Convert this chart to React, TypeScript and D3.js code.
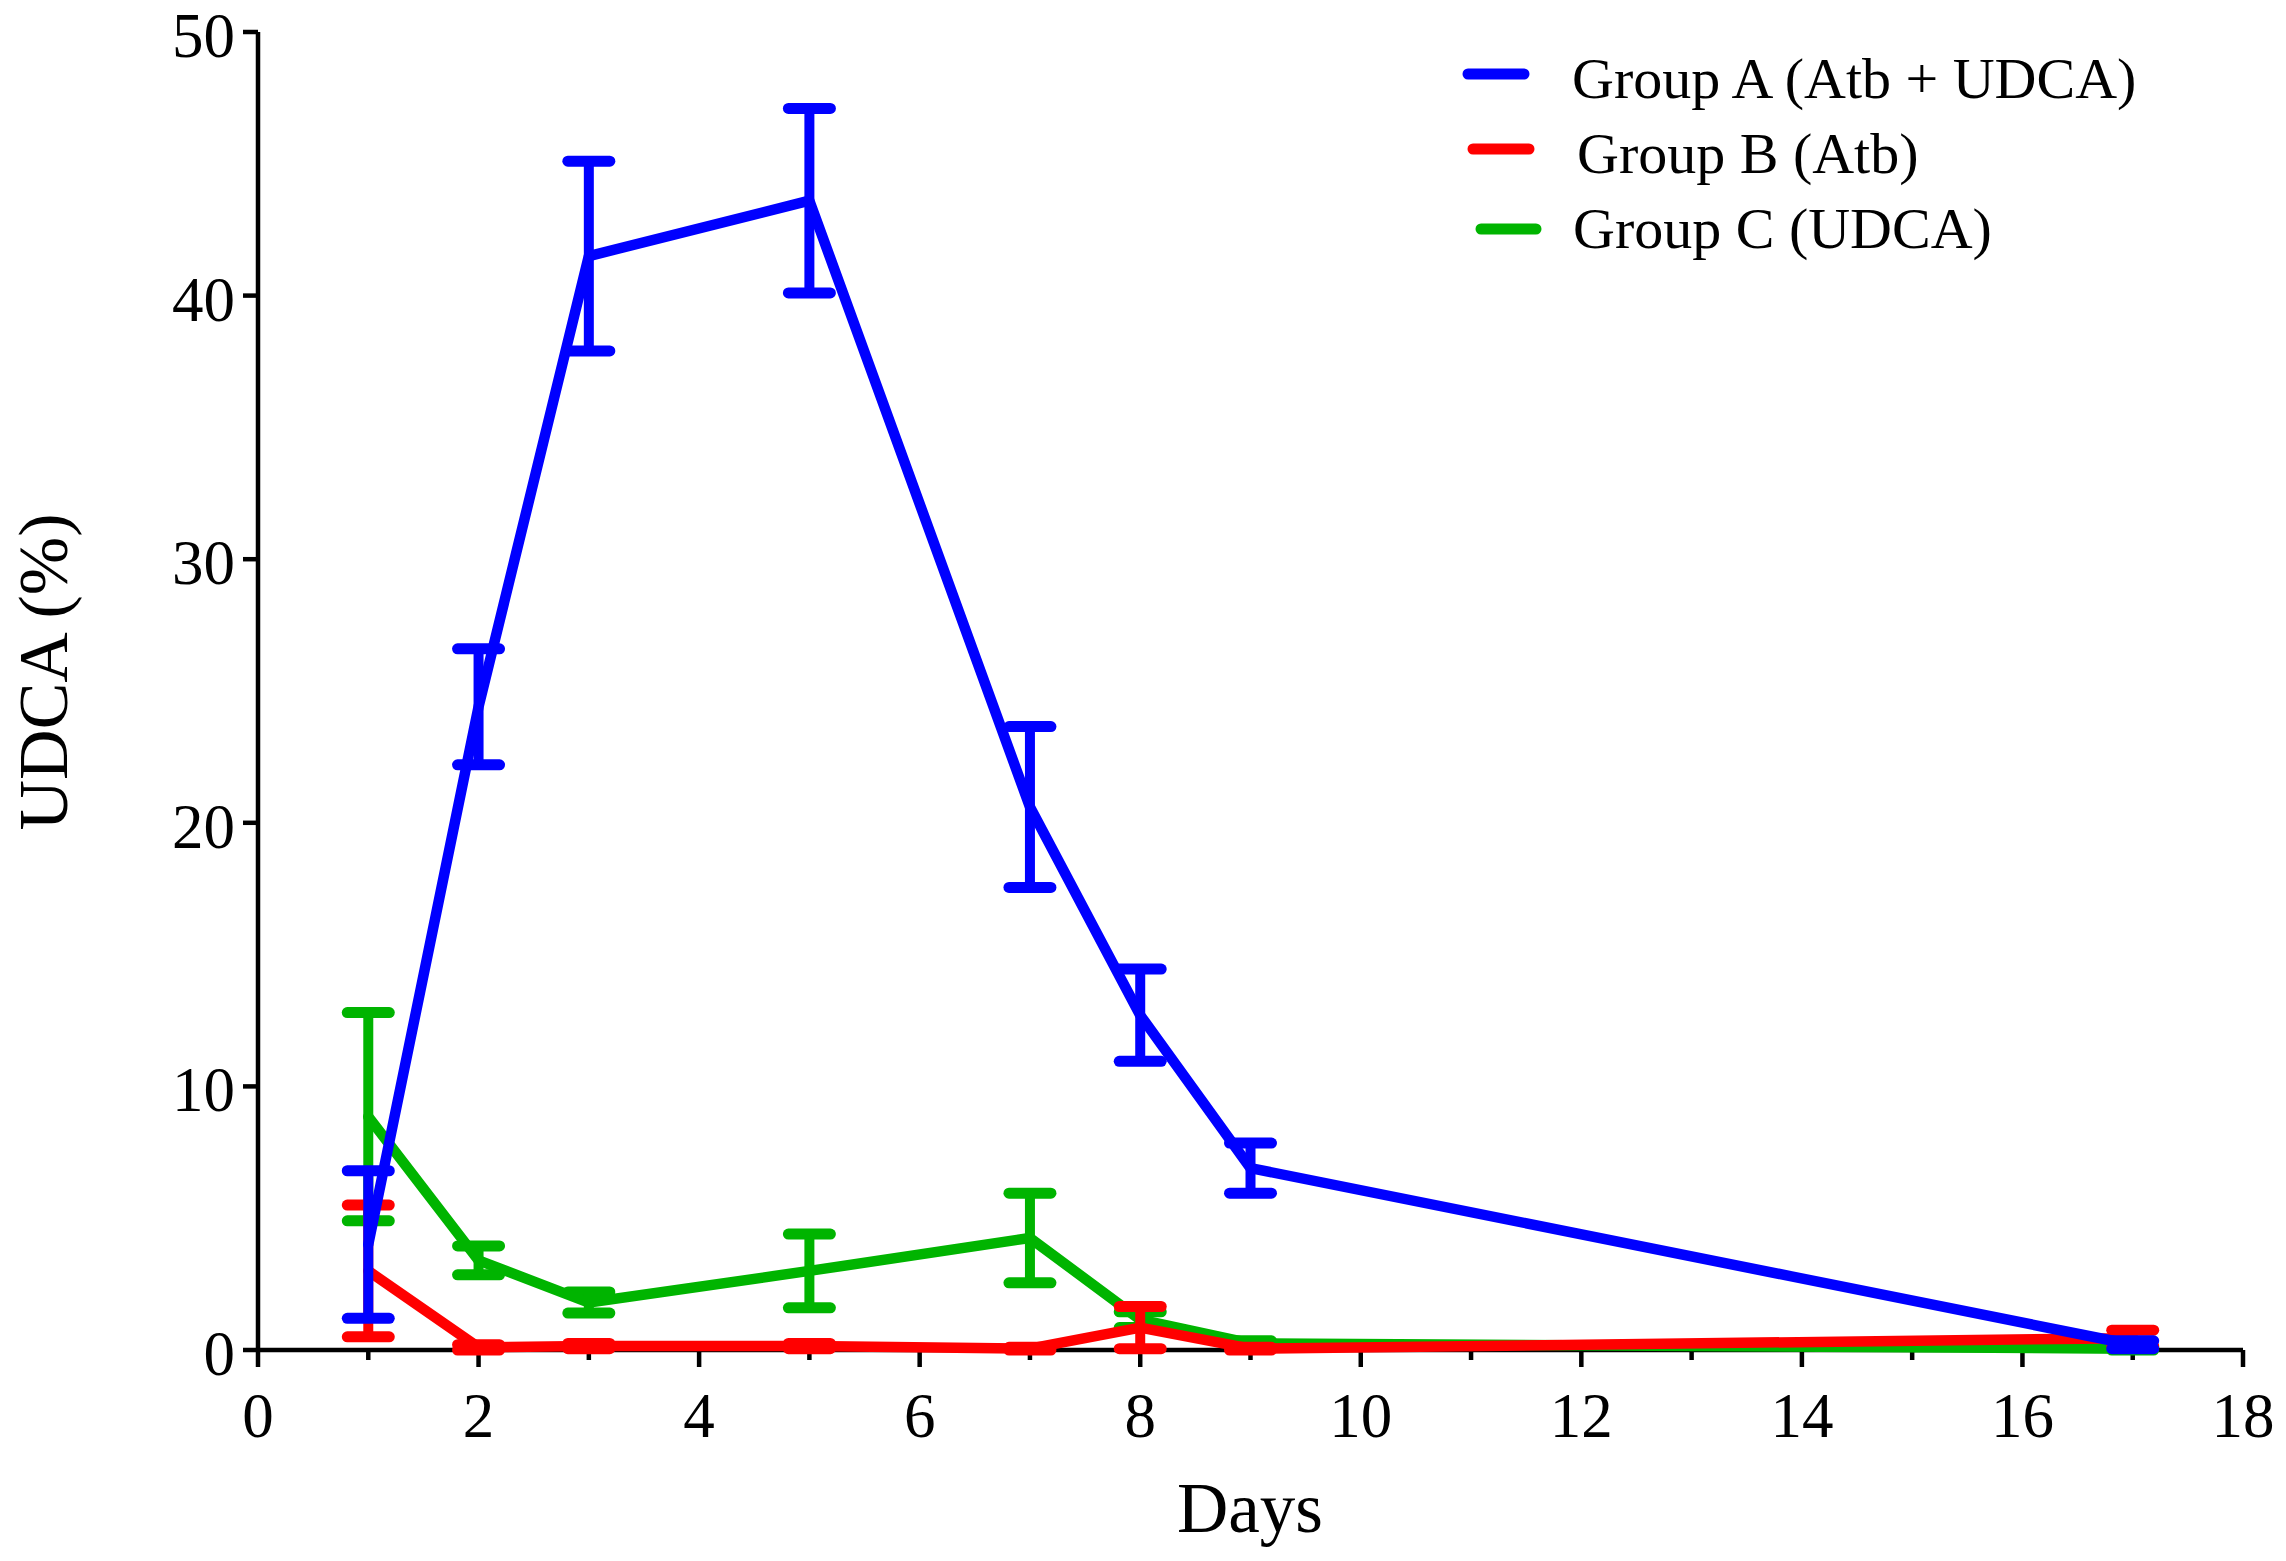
import React from "react";
import * as d3 from "d3";

const days = [1, 2, 3, 5, 7, 8, 9, 17];
const groupAMean = [4.0, 24.4, 41.5, 43.6, 20.6, 12.7, 6.9, 0.2];
const groupASem = [2.8, 2.2, 3.6, 3.5, 3.05, 1.75, 0.95, 0.15];
const groupBMean = [3.0, 0.1, 0.15, 0.15, 0.05, 0.85, 0.05, 0.45];
const groupBSem = [2.5, 0.1, 0.1, 0.1, 0.05, 0.8, 0.05, 0.3];
const groupCMean = [8.85, 3.4, 1.8, 3.0, 4.25, 1.15, 0.25, 0.05];
const groupCSem = [3.95, 0.55, 0.4, 1.4, 1.7, 0.3, 0.1, 0.05];

const seriesNames = ["Group A (Atb + UDCA)", "Group B (Atb)", "Group C (UDCA)"];
const seriesColors = ["#0000ff", "#ff0000", "#00b400"];

const xTicksMajor = [0, 2, 4, 6, 8, 10, 12, 14, 16, 18];
const xTicksMinor = [1, 3, 5, 7, 9, 11, 13, 15, 17];
const yTicks = [0, 10, 20, 30, 40, 50];

const W = 2286;
const H = 1561;
const FONT = "'Liberation Serif', 'Times New Roman', serif";

export default function App() {
  const x = d3.scaleLinear().domain([0, 18]).range([258, 2243]);
  const y = d3.scaleLinear().domain([0, 50]).range([1350, 32]);

  const series = [
    { name: seriesNames[0], color: seriesColors[0], mean: groupAMean, sem: groupASem },
    { name: seriesNames[1], color: seriesColors[1], mean: groupBMean, sem: groupBSem },
    { name: seriesNames[2], color: seriesColors[2], mean: groupCMean, sem: groupCSem },
  ];
  const drawOrder = [2, 1, 0];

  const line = d3
    .line<number>()
    .x((_, i) => x(days[i]))
    .y((d) => y(d));

  const capHalf = 21;
  const legendRows = [
    { x1: 1468, x2: 1524, ly: 74, tx: 1572, ty: 98 },
    { x1: 1473, x2: 1529, ly: 149, tx: 1577, ty: 173 },
    { x1: 1481, x2: 1536, ly: 229, tx: 1573, ty: 248 },
  ];

  return (
    <svg
      width={W}
      height={H}
      viewBox={`0 0 ${W} ${H}`}
      style={{ position: "absolute", left: 0, top: 0, background: "#fff" }}
    >
      <rect x={0} y={0} width={W} height={H} fill="#fff" />

      {/* axes */}
      <g stroke="#000" strokeWidth={4.5} fill="none">
        <line x1={x(0)} x2={x(18)} y1={y(0)} y2={y(0)} />
        <line x1={x(0)} x2={x(0)} y1={y(0)} y2={y(50)} />
        {xTicksMajor.map((t) => (
          <line key={"xM" + t} x1={x(t)} x2={x(t)} y1={y(0)} y2={y(0) + 17} />
        ))}
        {xTicksMinor.map((t) => (
          <line key={"xm" + t} x1={x(t)} x2={x(t)} y1={y(0)} y2={y(0) + 10} />
        ))}
        {yTicks.map((t) => (
          <line key={"y" + t} x1={x(0) - 15} x2={x(0)} y1={y(t)} y2={y(t)} />
        ))}
      </g>

      {/* tick labels */}
      <g fontFamily={FONT} fontSize={63} fill="#000">
        {xTicksMajor.map((t) => (
          <text key={"xl" + t} x={x(t)} y={1437} textAnchor="middle">
            {t}
          </text>
        ))}
        {yTicks.map((t) => (
          <text key={"yl" + t} x={235} y={y(t) + 25} textAnchor="end">
            {t}
          </text>
        ))}
      </g>

      {/* axis titles */}
      <text x={1250} y={1532} textAnchor="middle" fontFamily={FONT} fontSize={71}>
        Days
      </text>
      <text
        transform={`translate(67,672) rotate(-90)`}
        textAnchor="middle"
        fontFamily={FONT}
        fontSize={70}
      >
        UDCA (%)
      </text>

      {/* series */}
      {drawOrder.map((si) => {
        const s = series[si];
        return (
          <g key={s.name}>
            <g stroke={s.color} strokeLinecap="round" fill="none">
              {days.map((d, i) => {
                const cx = x(d);
                const top = y(s.mean[i] + s.sem[i]);
                const bot = y(Math.max(0, s.mean[i] - s.sem[i]));
                return (
                  <g key={d}>
                    <line x1={cx} x2={cx} y1={top} y2={bot} strokeWidth={10} strokeLinecap="butt" />
                    <line x1={cx - capHalf} x2={cx + capHalf} y1={top} y2={top} strokeWidth={11} />
                    <line x1={cx - capHalf} x2={cx + capHalf} y1={bot} y2={bot} strokeWidth={11} />
                  </g>
                );
              })}
            </g>
            <path
              d={line(s.mean) || ""}
              stroke={s.color}
              strokeWidth={10.5}
              fill="none"
              strokeLinejoin="round"
              strokeLinecap="round"
            />
          </g>
        );
      })}

      {/* legend */}
      {series.map((s, i) => {
        const r = legendRows[i];
        return (
          <g key={"lg" + i}>
            <line
              x1={r.x1}
              x2={r.x2}
              y1={r.ly}
              y2={r.ly}
              stroke={s.color}
              strokeWidth={11}
              strokeLinecap="round"
            />
            <text x={r.tx} y={r.ty} fontFamily={FONT} fontSize={58} fill="#000">
              {s.name}
            </text>
          </g>
        );
      })}
    </svg>
  );
}
